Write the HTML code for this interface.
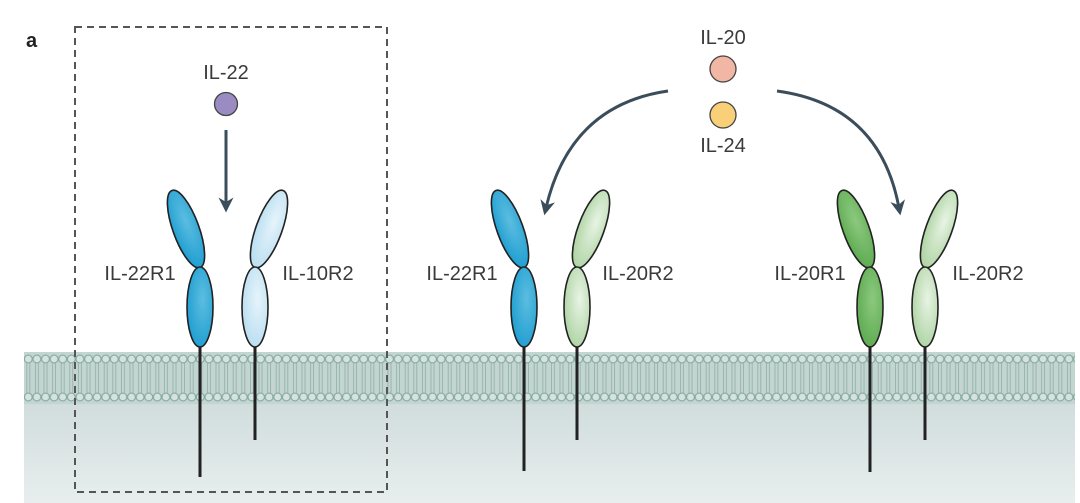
<!DOCTYPE html>
<html><head><meta charset="utf-8"><style>
html,body{margin:0;padding:0;background:#fff;}
svg{display:block;}
text{font-family:"Liberation Sans",sans-serif;fill:#3a3a3a;}
</style></head><body>
<svg width="1080" height="503" viewBox="0 0 1080 503" xmlns="http://www.w3.org/2000/svg">
<defs>
<linearGradient id="cyto" x1="0" y1="0" x2="0" y2="1">
<stop offset="0" stop-color="#d0dcdc"/><stop offset="1" stop-color="#e8eeee"/></linearGradient>
<pattern id="lip" x="24" y="352" width="8.6" height="52" patternUnits="userSpaceOnUse">
<rect width="8.6" height="52" fill="#c3d5d0"/>
<circle cx="4.3" cy="7" r="3.9" fill="#d5e3df" stroke="#86a9a0" stroke-width="1.1"/>
<circle cx="4.3" cy="45" r="3.9" fill="#d5e3df" stroke="#86a9a0" stroke-width="1.1"/>
<path d="M2.8 11 V41 M5.8 11 V41" stroke="#94b2aa" stroke-width="0.9"/>
</pattern>
<radialGradient id="blue" cx="0.6" cy="0.4" r="0.7"><stop offset="0" stop-color="#5cbde0"/><stop offset="1" stop-color="#1a9cd0"/></radialGradient>
<radialGradient id="lblue" cx="0.6" cy="0.4" r="0.7"><stop offset="0" stop-color="#e6f4fb"/><stop offset="1" stop-color="#b5dcf0"/></radialGradient>
<radialGradient id="lgreen" cx="0.6" cy="0.4" r="0.7"><stop offset="0" stop-color="#e8f4e4"/><stop offset="1" stop-color="#a9d19e"/></radialGradient>
<radialGradient id="dgreen" cx="0.6" cy="0.4" r="0.7"><stop offset="0" stop-color="#8cc97f"/><stop offset="1" stop-color="#5aa84d"/></radialGradient>
<marker id="ah" viewBox="0 0 10 10" refX="5" refY="5" markerWidth="5" markerHeight="5" orient="auto"><path d="M0,0 L10,5 L0,10 L3,5 z" fill="#3b4d5a"/></marker>
</defs>
<rect x="24" y="400" width="1051" height="103" fill="url(#cyto)"/>
<rect x="24" y="352" width="1051" height="52" fill="url(#lip)"/>

<text x="26" y="47" style="font-weight:bold;font-size:20px;fill:#222">a</text>

<g stroke="#222" stroke-width="1.6">
<line x1="200" y1="345" x2="200" y2="477" stroke-width="3"/>
<line x1="255" y1="345" x2="255" y2="440" stroke-width="3"/>
<line x1="524" y1="345" x2="524" y2="471" stroke-width="3"/>
<line x1="577" y1="345" x2="577" y2="440" stroke-width="3"/>
<line x1="870" y1="345" x2="870" y2="472" stroke-width="3"/>
<line x1="925" y1="345" x2="925" y2="440" stroke-width="3"/>

<ellipse cx="186" cy="229" rx="13" ry="41" transform="rotate(-20 186 229)" fill="url(#blue)"/>
<ellipse cx="200" cy="307" rx="13" ry="40" fill="url(#blue)"/>
<ellipse cx="269" cy="229" rx="13" ry="41" transform="rotate(20 269 229)" fill="url(#lblue)"/>
<ellipse cx="255" cy="307" rx="13" ry="40" fill="url(#lblue)"/>

<ellipse cx="510" cy="229" rx="13" ry="41" transform="rotate(-20 510 229)" fill="url(#blue)"/>
<ellipse cx="524" cy="307" rx="13" ry="40" fill="url(#blue)"/>
<ellipse cx="591" cy="229" rx="13" ry="41" transform="rotate(20 591 229)" fill="url(#lgreen)"/>
<ellipse cx="577" cy="307" rx="13" ry="40" fill="url(#lgreen)"/>

<ellipse cx="856" cy="229" rx="13" ry="41" transform="rotate(-20 856 229)" fill="url(#dgreen)"/>
<ellipse cx="870" cy="307" rx="13" ry="40" fill="url(#dgreen)"/>
<ellipse cx="939" cy="229" rx="13" ry="41" transform="rotate(20 939 229)" fill="url(#lgreen)"/>
<ellipse cx="925" cy="307" rx="13" ry="40" fill="url(#lgreen)"/>
</g>

<path d="M75 27 H387 V492 H75 Z" fill="none" stroke="#555" stroke-width="2" stroke-dasharray="7,5"/>

<circle cx="226" cy="104" r="11.5" fill="#9a8cc2" stroke="#444" stroke-width="1.3"/>
<circle cx="723" cy="69" r="13" fill="#f2b6a4" stroke="#444" stroke-width="1.3"/>
<circle cx="723" cy="115" r="13" fill="#f9cf78" stroke="#444" stroke-width="1.3"/>

<g stroke="#3b4d5a" stroke-width="3" fill="none" marker-end="url(#ah)">
<line x1="226" y1="130" x2="226" y2="205"/>
<path d="M668 91 Q570 105 546 208"/>
<path d="M777 91 Q880 105 899 208"/>
</g>

<g style="font-size:20px" text-anchor="middle">
<text x="226" y="79">IL-22</text>
<text x="723" y="44">IL-20</text>
<text x="723" y="152">IL-24</text>
<text x="140" y="280">IL-22R1</text>
<text x="318" y="280">IL-10R2</text>
<text x="462" y="280">IL-22R1</text>
<text x="638" y="280">IL-20R2</text>
<text x="810" y="280">IL-20R1</text>
<text x="988" y="280">IL-20R2</text>
</g>
</svg>
</body></html>
